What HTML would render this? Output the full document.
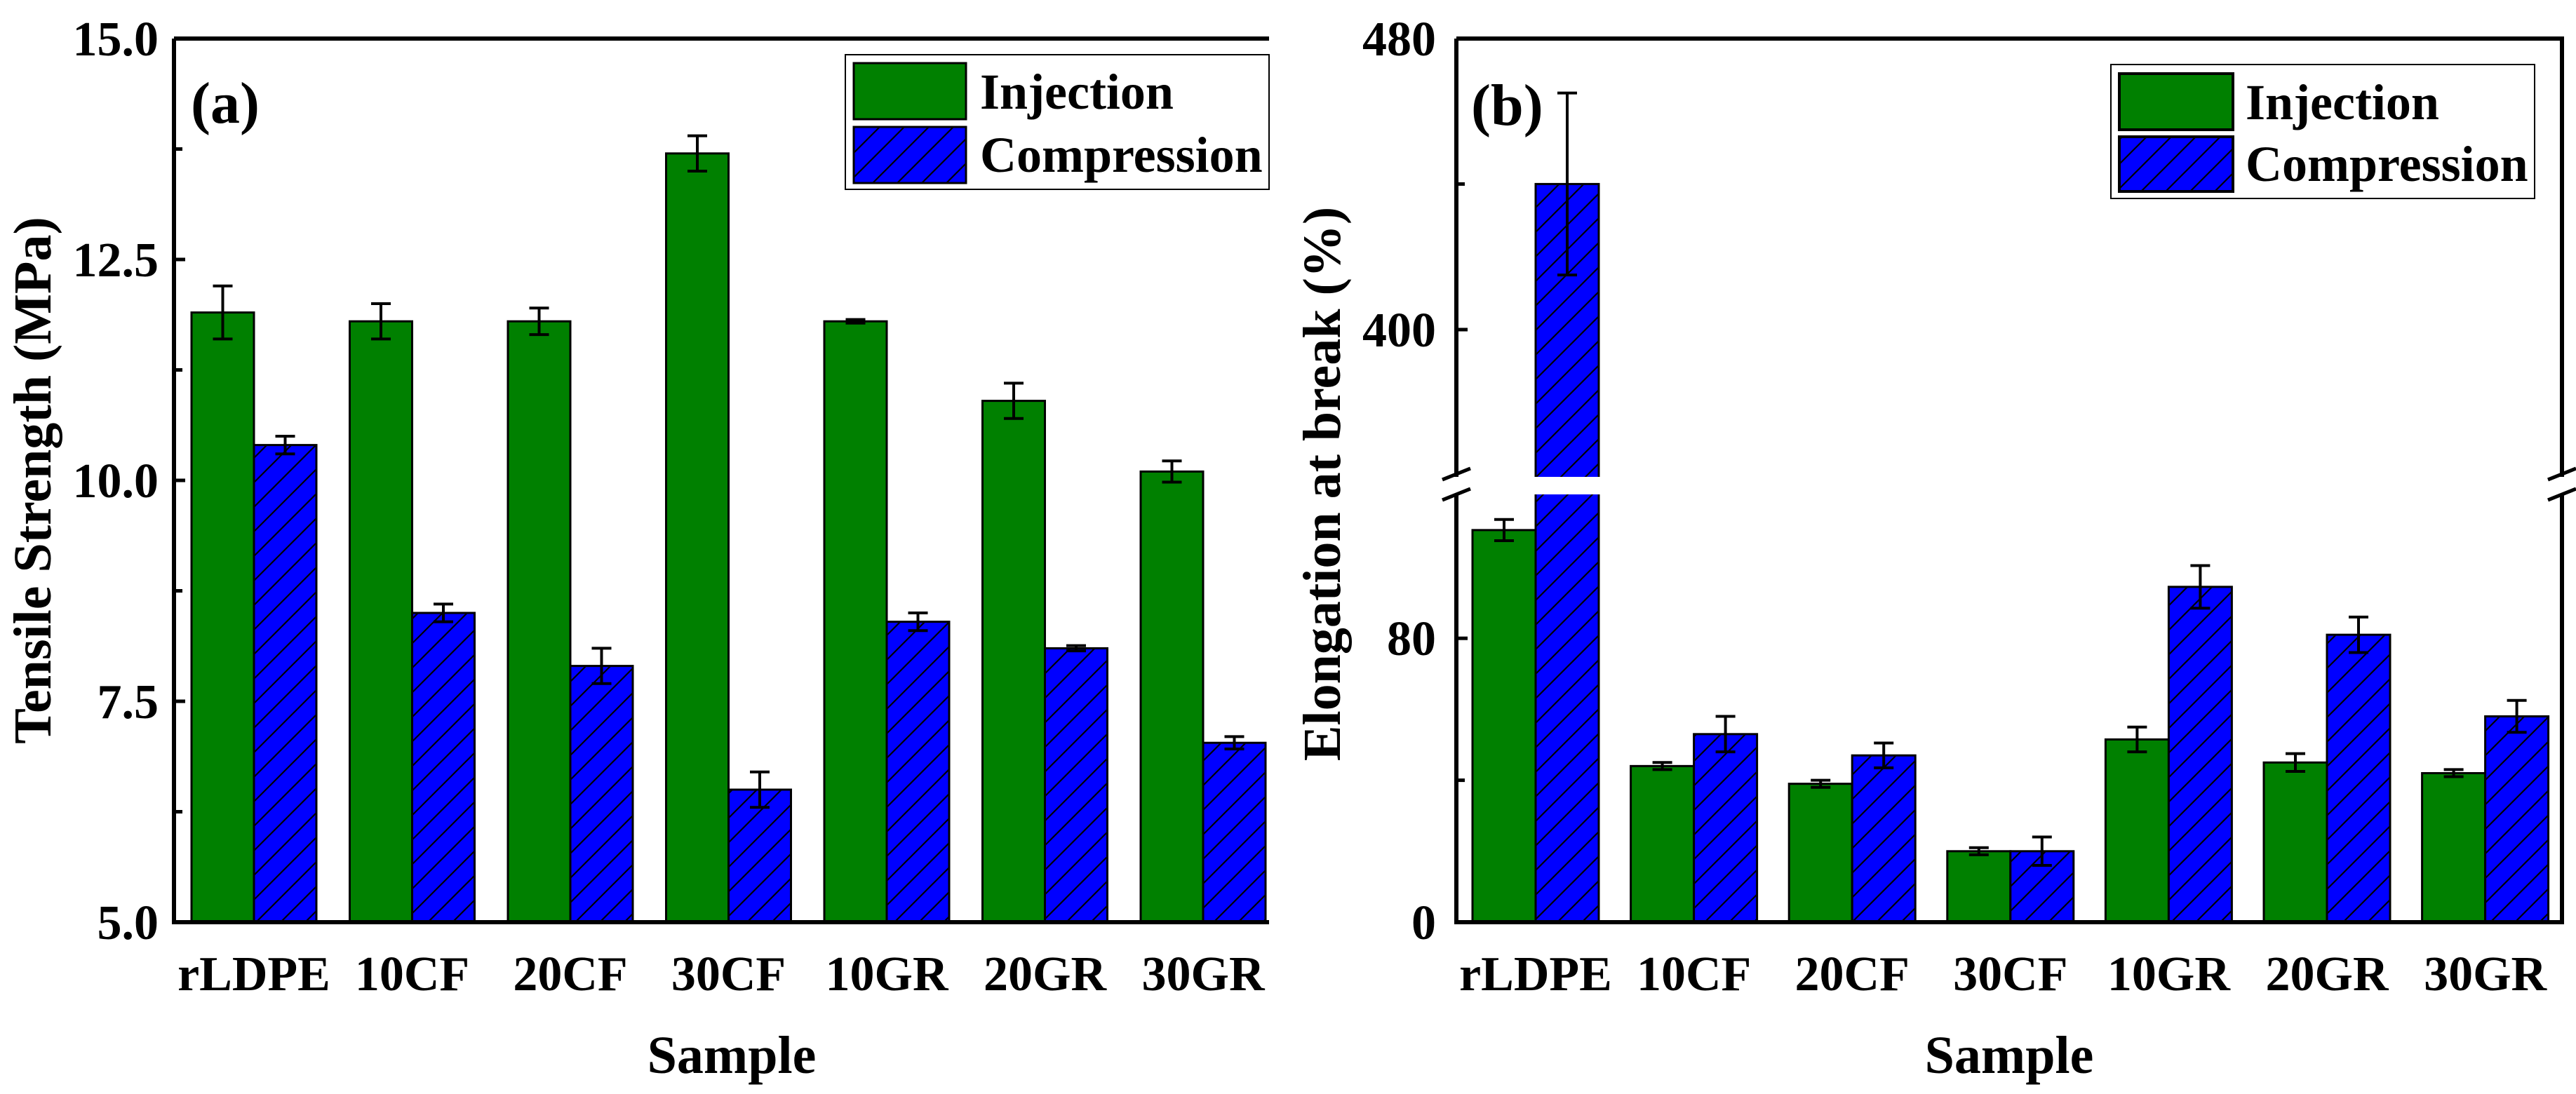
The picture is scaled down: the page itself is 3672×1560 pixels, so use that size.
<!DOCTYPE html>
<html><head><meta charset="utf-8"><style>
html,body{margin:0;padding:0;background:#fff;}
svg{display:block;}
text{font-family:"Liberation Serif","DejaVu Serif",serif;font-weight:bold;}
</style></head><body>
<svg id="fig" width="3672" height="1560" viewBox="0 0 3672 1560" xmlns="http://www.w3.org/2000/svg">
<defs>
<pattern id="hatch" patternUnits="userSpaceOnUse" width="35" height="35">
<rect width="35" height="35" fill="#0000ff"/>
<path d="M-5,40 L40,-5 M-40,40 L40,-40 M0,70 L70,0" stroke="#000" stroke-width="2.2"/>
</pattern>
</defs>
<g id="pa"></g>
<g id="pb"></g>
</svg>
<script>
const categories = ["rLDPE","10CF","20CF","30CF","10GR","20GR","30GR"];
const tensileInjection = [11.9,11.8,11.8,13.7,11.8,10.9,10.1];
const tensileInjectionErr = [0.3,0.2,0.15,0.2,0.02,0.2,0.12];
const tensileCompression = [10.4,8.5,7.9,6.5,8.4,8.1,7.03];
const tensileCompressionErr = [0.1,0.1,0.2,0.2,0.1,0.03,0.07];
const tensileTicks = ["5.0","7.5","10.0","12.5","15.0"];
const elongInjection = [110.5,44,39,20,51.5,45,42];
const elongInjectionErr = [3,1,1,1,3.5,2.5,1];
const elongCompression = [440,53,47,20,94.5,81,58];
const elongCompressionErr = [25,5,3.5,4,6,5,4.5];
const elongTicks = ["0","80","400","480"];

const NS="http://www.w3.org/2000/svg";
const FF='"Liberation Serif","DejaVu Serif",serif';
function mk(parent,tag,attrs,text){
  const e=document.createElementNS(NS,tag);
  for(const k in attrs) e.setAttribute(k,attrs[k]);
  if(tag==='text'){e.setAttribute('font-family',FF);e.setAttribute('font-weight','bold');}
  if(text!==undefined) e.textContent=text;
  parent.appendChild(e); return e;
}

// ---------- Panel A ----------
(function(){
  const g=document.getElementById('pa');
  const L=248,R=1809,T=55,B=1315;
  const y=v=>B-(v-5)*(B-T)/10;
  const cx=i=>362+i*225.5;
  const bw=89;
  categories.forEach((c,i)=>{
    let r=mk(g,'rect',{x:cx(i)-bw,y:y(tensileInjection[i]),width:bw,height:B-y(tensileInjection[i]),fill:'#008000',stroke:'#000','stroke-width':3});
    
    
    let r2=mk(g,'rect',{x:cx(i),y:y(tensileCompression[i]),width:bw,height:B-y(tensileCompression[i]),fill:'url(#hatch)',stroke:'#000','stroke-width':3});
    
    
    [[cx(i)-bw/2,tensileInjection[i],tensileInjectionErr[i]],[cx(i)+bw/2,tensileCompression[i],tensileCompressionErr[i]]].forEach(([x,v,e])=>{
      const eb=mk(g,'path',{d:`M${x},${y(v+e)}V${y(v-e)}M${x-14},${y(v+e)}H${x+14}M${x-14},${y(v-e)}H${x+14}`,stroke:'#000','stroke-width':4,fill:'none'});
      
      
    });
    const t=mk(g,'text',{x:cx(i),y:1412,'font-size':70,'text-anchor':'middle'},c);
    
    
  });
  const ax=mk(g,'path',{d:`M${L},${T}H${R}M${L},${T}V${B}H${R}`,stroke:'#000','stroke-width':6,fill:'none'});
  
  
  tensileTicks.forEach(s=>{
    const v=parseFloat(s);
    mk(g,'path',{d:`M${L},${y(v)}H${L+16}`,stroke:'#000','stroke-width':5});
    const t=mk(g,'text',{x:226,y:y(v)+24,'font-size':70,'text-anchor':'end'},s);
    
    
    if(v<15) mk(g,'path',{d:`M${L},${y(v+1.25)}H${L+12}`,stroke:'#000','stroke-width':5});
  });
  let t=mk(g,'text',{x:0,y:0,'font-size':76,'text-anchor':'middle',transform:'translate(72,685) rotate(-90)'},'Tensile Strength (MPa)');
  
  
  t=mk(g,'text',{x:1043,y:1530,'font-size':76,'text-anchor':'middle'},'Sample');
  
  
  t=mk(g,'text',{x:272,y:175,'font-size':84},'(a)');
  
  
  const lg=mk(g,'g',{});
  
  
  mk(lg,'rect',{x:1205,y:78,width:604,height:192,fill:'#fff',stroke:'#000','stroke-width':2});
  mk(lg,'rect',{x:1217,y:90,width:160,height:80,fill:'#008000',stroke:'#000','stroke-width':3});
  mk(lg,'rect',{x:1217,y:181,width:160,height:80,fill:'url(#hatch)',stroke:'#000','stroke-width':3});
  mk(lg,'text',{x:1397,y:155,'font-size':72},'Injection');
  mk(lg,'text',{x:1397,y:245,'font-size':72},'Compression');
})();

// ---------- Panel B ----------
(function(){
  const g=document.getElementById('pb');
  const L=2076,R=3652,T=55,B=1315;
  const brLo=120.5, brHi=359.5, gapTop=680, gapBot=705;
  const y=v=> v<=brLo ? B-v*5.06 : (v>=brHi ? 470-(v-400)*5.19 : 692);
  const cx=i=>2189+i*225.6;
  const bw=90;
  categories.forEach((c,i)=>{
    let r=mk(g,'rect',{x:cx(i)-bw,y:y(elongInjection[i]),width:bw,height:B-y(elongInjection[i]),fill:'#008000',stroke:'#000','stroke-width':3});
    
    
    let r2=mk(g,'rect',{x:cx(i),y:y(elongCompression[i]),width:bw,height:B-y(elongCompression[i]),fill:'url(#hatch)',stroke:'#000','stroke-width':3});
    
    
    if(elongCompression[i]>brHi){
      mk(g,'rect',{x:cx(i)-2,y:gapTop,width:bw+4,height:gapBot-gapTop,fill:'#fff'});
    }
    [[cx(i)-bw/2,elongInjection[i],elongInjectionErr[i]],[cx(i)+bw/2,elongCompression[i],elongCompressionErr[i]]].forEach(([x,v,e])=>{
      const eb=mk(g,'path',{d:`M${x},${y(v+e)}V${y(v-e)}M${x-14},${y(v+e)}H${x+14}M${x-14},${y(v-e)}H${x+14}`,stroke:'#000','stroke-width':4,fill:'none'});
      
      
    });
    const t=mk(g,'text',{x:cx(i),y:1412,'font-size':70,'text-anchor':'middle'},c);
    
    
  });
  const ax=mk(g,'path',{d:`M${L},${T}H${R}V${gapTop}M${R},${gapBot}V${B}H${L}V${gapBot}M${L},${gapTop}V${T}`,stroke:'#000','stroke-width':6,fill:'none'});
  
  
  [L,R].forEach(x=>{
    const br=mk(g,'path',{d:`M${x-20},${gapTop+4}L${x+20},${gapTop-12}M${x-20},${gapBot+8}L${x+20},${gapBot-8}`,stroke:'#000','stroke-width':5});
    
    
  });
  elongTicks.forEach(s=>{
    const v=parseFloat(s);
    mk(g,'path',{d:`M${L},${y(v)}H${L+16}`,stroke:'#000','stroke-width':5});
    const t=mk(g,'text',{x:2047,y:y(v)+24,'font-size':70,'text-anchor':'end'},s);
    
    
  });
  [40,440].forEach(v=>mk(g,'path',{d:`M${L},${y(v)}H${L+12}`,stroke:'#000','stroke-width':5}));
  let t=mk(g,'text',{x:0,y:0,'font-size':76,'text-anchor':'middle',transform:'translate(1910,690) rotate(-90)'},'Elongation at break (%)');
  
  
  t=mk(g,'text',{x:2864,y:1530,'font-size':76,'text-anchor':'middle'},'Sample');
  
  
  t=mk(g,'text',{x:2097,y:178,'font-size':84},'(b)');
  
  
  const lg=mk(g,'g',{});
  
  
  mk(lg,'rect',{x:3009,y:92,width:604,height:191,fill:'#fff',stroke:'#000','stroke-width':2});
  mk(lg,'rect',{x:3021,y:105,width:162,height:80,fill:'#008000',stroke:'#000','stroke-width':4});
  mk(lg,'rect',{x:3021,y:195,width:162,height:78,fill:'url(#hatch)',stroke:'#000','stroke-width':4});
  mk(lg,'text',{x:3201,y:170,'font-size':72},'Injection');
  mk(lg,'text',{x:3201,y:258,'font-size':72},'Compression');
})();
</script>
</body></html>
